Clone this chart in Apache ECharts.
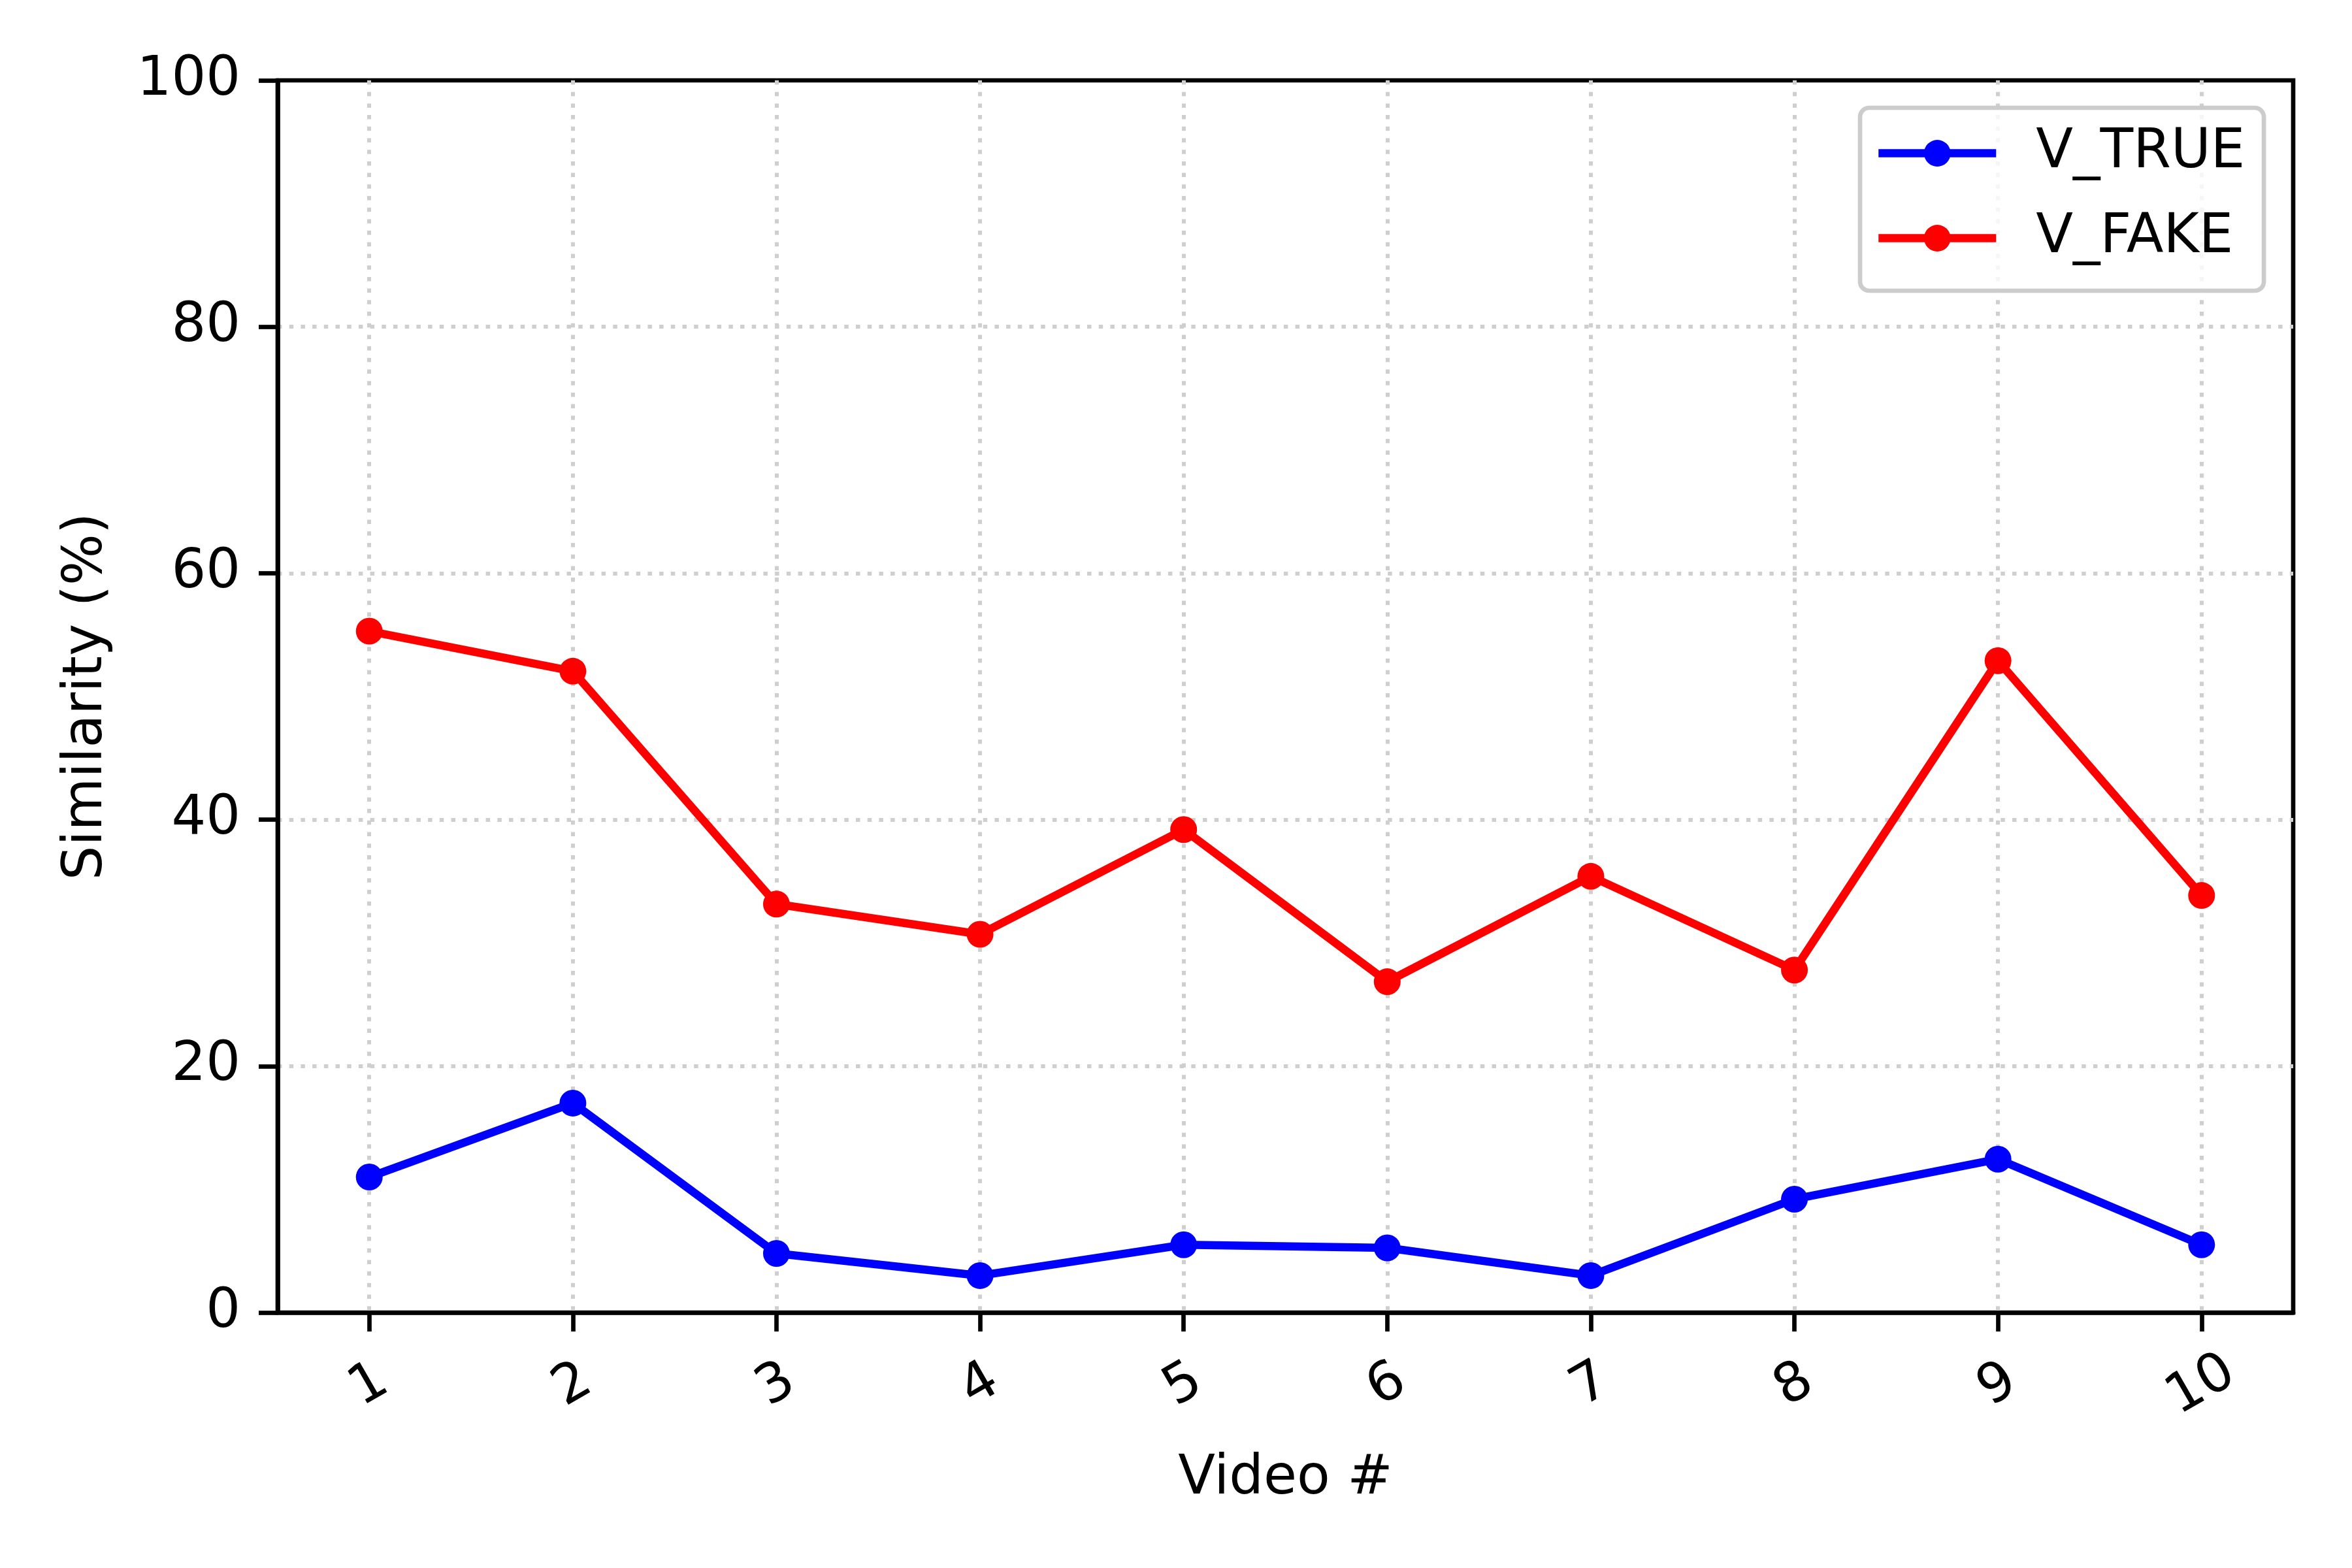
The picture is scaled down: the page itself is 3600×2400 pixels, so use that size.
<!DOCTYPE html>
<html>
<head>
<meta charset="utf-8">
<script src="https://cdn.jsdelivr.net/npm/echarts@6/dist/echarts.min.js"></script>
<style>
  html, body { margin: 0; padding: 0; background: #fff; }
  #chart { width: 3600px; height: 2400px; }
</style>
</head>
<body>
<div id="chart"></div>
<script>
const videos = [1, 2, 3, 4, 5, 6, 7, 8, 9, 10];
const vTrue = [11.0, 17.0, 4.8, 3.0, 5.5, 5.25, 3.0, 9.2, 12.45, 5.5];
const vFake = [55.3, 52.05, 33.15, 30.7, 39.2, 26.85, 35.4, 27.8, 52.9, 33.85];
const yTicks = [0, 20, 40, 60, 80, 100];

const FONT = "DejaVu Sans";
const FS = 83;
const gridLine = { color: "#cfcfcf", width: 6, type: [6.5, 11.2] };

const chart = echarts.init(document.getElementById("chart"), null, { renderer: "canvas" });

function pairs(ys) {
  return videos.map((x, i) => [x, ys[i]]);
}

chart.setOption({
  backgroundColor: "#fff",
  animation: false,
  textStyle: { fontFamily: FONT },
  grid: {
    left: 425, right: 90, top: 123, bottom: 391,
    show: true, borderColor: "#000", borderWidth: 6.67,
    outerBoundsMode: "none",
  },
  legend: {
    left: 2847, top: 165,
    orient: "vertical",
    itemWidth: 180, itemHeight: 51, itemGap: 47,
    padding: [28, 29, 39, 22],
    backgroundColor: "rgba(255,255,255,0.8)",
    borderColor: "#cccccc", borderWidth: 6.67, borderRadius: 14,
    lineStyle: { width: 12.5 },
    textStyle: { fontFamily: FONT, fontSize: FS, color: "#000", lineHeight: 51, padding: [0, 0, 0, 56] },
    data: ["V_TRUE", "V_FAKE"],
  },
  xAxis: {
    type: "value",
    min: 0.55, max: 10.45,
    name: "Video #",
    nameLocation: "middle",
    nameGap: 214,
    nameMoveOverlap: false,
    nameTextStyle: { fontFamily: FONT, fontSize: FS, color: "#000" },
    axisLine: { show: true, onZero: false, lineStyle: { color: "#000", width: 6.67 } },
    axisTick: { show: true, length: 29, lineStyle: { color: "#000", width: 6.67 }, customValues: videos },
    axisLabel: {
      customValues: videos,
      rotate: 30, align: "center", verticalAlign: "middle", margin: 112,
      fontFamily: FONT, fontSize: FS, color: "#000",
      formatter: (v) => String(v),
    },
    splitLine: { show: true, lineStyle: gridLine },
  },
  yAxis: {
    type: "value",
    min: yTicks[0], max: yTicks[yTicks.length - 1], interval: 20,
    name: "Similarity (%)",
    nameLocation: "middle",
    nameGap: 250,
    nameMoveOverlap: false,
    nameTextStyle: { fontFamily: FONT, fontSize: FS, color: "#000" },
    axisLine: { show: true, lineStyle: { color: "#000", width: 6.67 } },
    axisTick: { show: true, length: 29, lineStyle: { color: "#000", width: 6.67 } },
    axisLabel: { margin: 57, fontFamily: FONT, fontSize: FS, color: "#000" },
    splitLine: { show: true, showMinLine: false, showMaxLine: false, lineStyle: gridLine },
  },
  series: [
    {
      name: "V_TRUE",
      type: "line",
      data: pairs(vTrue),
      symbol: "circle", symbolSize: 41,
      itemStyle: { color: "#0000ff" },
      lineStyle: { color: "#0000ff", width: 12.5 },
      z: 3,
    },
    {
      name: "V_FAKE",
      type: "line",
      data: pairs(vFake),
      symbol: "circle", symbolSize: 41,
      itemStyle: { color: "#ff0000" },
      lineStyle: { color: "#ff0000", width: 12.5 },
      z: 4,
    },
  ],
});
</script>
</body>
</html>
